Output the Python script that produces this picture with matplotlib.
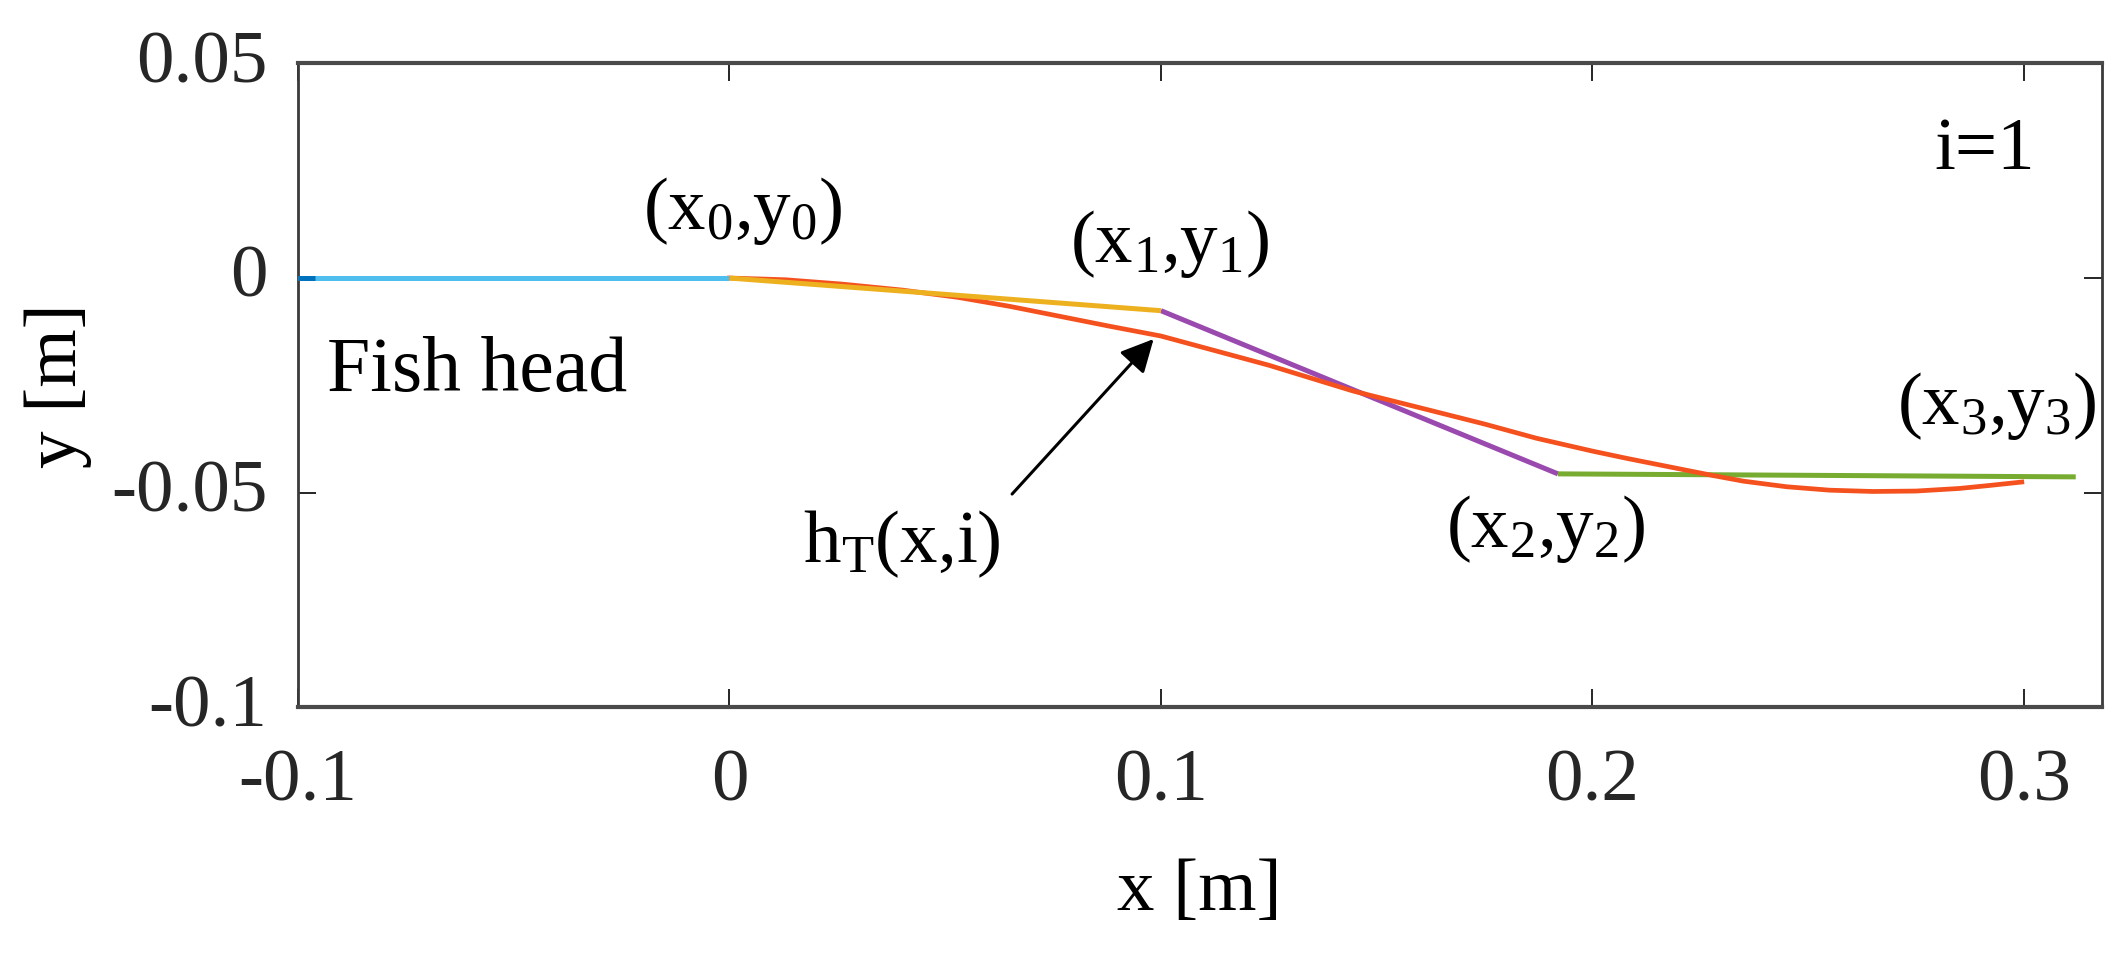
import matplotlib
matplotlib.use('Agg')
import matplotlib.pyplot as plt
from matplotlib.transforms import ScaledTranslation

plt.rcParams['font.family'] = ['Liberation Serif', 'DejaVu Serif']
plt.rcParams['mathtext.fontset'] = 'custom'
plt.rcParams['mathtext.rm'] = 'Liberation Serif'
plt.rcParams['mathtext.it'] = 'Liberation Serif:italic'

# fish body segments (joints)
seg_x = [-0.1, 0.0, 0.1, 0.192, 0.312]
seg_y = [0.0, 0.0, -0.0076, -0.0456, -0.0463]
seg_colors = ['#4DBEEE', '#EDB120', '#9A4AAE', '#77AC30']

# short dark piece at the very head
head_x = [-0.1, -0.096]
head_y = [0.0, 0.0]

# travelling wave h_T(x,i)
ht_x = [0.0, 0.013, 0.026, 0.04, 0.053, 0.065, 0.076, 0.088, 0.1, 0.125,
        0.1445, 0.16, 0.175, 0.187, 0.2, 0.208, 0.215, 0.228, 0.235, 0.245,
        0.255, 0.265, 0.275, 0.285, 0.292, 0.2995]
ht_y = [0.0, -0.0004, -0.0014, -0.0028, -0.0045, -0.0066, -0.0088, -0.0112,
        -0.0135, -0.0203, -0.0263, -0.0302, -0.034, -0.0373, -0.0403, -0.042,
        -0.0434, -0.046, -0.0473, -0.0486, -0.0494, -0.0497, -0.0496, -0.049,
        -0.0483, -0.0475]

xticks = [-0.1, 0, 0.1, 0.2, 0.3]
xtick_labels = ['-0.1', '0', '0.1', '0.2', '0.3']
yticks = [-0.1, -0.05, 0, 0.05]
ytick_labels = ['-0.1', '-0.05', '0', '0.05']

fig = plt.figure(figsize=(21.22, 9.58), dpi=100)
ax = fig.add_axes([0.1404, 0.2615, 0.85, 0.6724])

fs = 54

ax.plot(ht_x, ht_y, color='#F4511E', lw=3.4, zorder=2)
for k in range(len(seg_x) - 1):
    ax.plot(seg_x[k:k + 2], seg_y[k:k + 2], color=seg_colors[k], lw=3.6,
            solid_capstyle='butt', zorder=3 if k < 2 else 1)
ax.plot(head_x, head_y, color='#0072BD', lw=3.6, solid_capstyle='butt', zorder=4)

ax.text(-0.02, 0.0114, '(x$_0$,y$_0$)', fontsize=fs, ha='left', va='baseline')
ax.text(0.079, 0.0037, '(x$_1$,y$_1$)', fontsize=fs, ha='left', va='baseline')
ax.text(0.166, -0.0626, '(x$_2$,y$_2$)', fontsize=fs, ha='left', va='baseline')
ax.text(0.2705, -0.0339, '(x$_3$,y$_3$)', fontsize=fs, ha='left', va='baseline')
ax.text(-0.0932, -0.0262, 'Fish head', fontsize=fs + 2, ha='left', va='baseline')
ax.text(0.2793, 0.0255, 'i=1', fontsize=fs, ha='left', va='baseline')
ax.text(0.017, -0.0662, r'h$_\mathrm{T}$(x,i)', fontsize=fs, ha='left', va='baseline')

ax.annotate('', xy=(0.0983, -0.0142), xytext=(0.0655, -0.0503),
            arrowprops=dict(arrowstyle='-|>', color='black', lw=2.2,
                            mutation_scale=50, shrinkA=0, shrinkB=0))

ax.set_xlim(-0.1, 0.318)
ax.set_ylim(-0.1, 0.05)
ax.set_xticks(xticks)
ax.set_xticklabels(xtick_labels)
ax.set_yticks(yticks)
ax.set_yticklabels(ytick_labels)
ax.tick_params(axis='both', direction='in', length=13, width=1.4,
               colors='#262626', labelsize=fs, top=True, right=True)
ax.tick_params(axis='x', pad=30)
ax.tick_params(axis='y', pad=22)
for lab in ax.get_yticklabels():
    lab.set_transform(lab.get_transform() + ScaledTranslation(0, 0.07, fig.dpi_scale_trans))

for side in ['top', 'bottom']:
    ax.spines[side].set_linewidth(3.0)
    ax.spines[side].set_color('#4a4a4a')
for side in ['left', 'right']:
    ax.spines[side].set_linewidth(2.0)
    ax.spines[side].set_color('#3a3a3a')

ax.set_xlabel('x [m]', fontsize=fs, labelpad=30)
ax.set_ylabel('y [m]', fontsize=fs, labelpad=14)

fig.savefig('out.png', dpi=100)
